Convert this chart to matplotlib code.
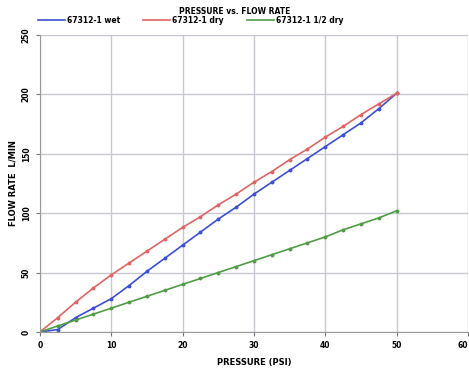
import matplotlib.pyplot as plt

pressure = [0, 2.5, 5, 7.5, 10, 12.5, 15, 17.5, 20, 22.5, 25, 27.5, 30,
            32.5, 35, 37.5, 40, 42.5, 45, 47.5, 50]

# flow rate L/min for each sample
wet = [0, 2, 12, 20, 28, 39, 51, 62, 73, 84, 95, 105, 116,
       126, 136, 146, 156, 166, 176, 188, 201]
dry = [0, 12, 25, 37, 48, 58, 68, 78, 88, 97, 107, 116, 126,
       135, 145, 154, 164, 173, 183, 192, 201]
dry_half = [0, 5, 10, 15, 20, 25, 30, 35, 40, 45, 50, 55, 60,
            65, 70, 75, 80, 86, 91, 96, 102]

labels = ["67312-1 wet", "67312-1 dry", "67312-1 1/2 dry"]

fig = plt.figure(figsize=(4.69, 3.68), dpi=100)
ax = fig.add_axes([0.085, 0.098, 0.913, 0.807])

ax.plot(pressure, wet, color="#3d4fd6", lw=1.2, marker="o", ms=1.8, label=labels[0])
ax.plot(pressure, dry, color="#e06464", lw=1.2, marker="o", ms=1.8, label=labels[1])
ax.plot(pressure, dry_half, color="#4f9c45", lw=1.2, marker="o", ms=1.8, label=labels[2])

ax.set_xlim(0, 60)
ax.set_ylim(0, 250)
ax.set_xticks(range(0, 61, 10))
ax.set_yticks(range(0, 251, 50))
ax.grid(True, color="#c8c8d4", lw=1)
ax.set_axisbelow(True)
for s in ["top", "right"]:
    ax.spines[s].set_visible(False)
ax.spines["left"].set_color("#999999")
ax.spines["bottom"].set_color("#999999")
ax.tick_params(labelsize=5.5, length=3, color="#777777")
for t in ax.get_xticklabels() + ax.get_yticklabels():
    t.set_fontweight("bold")
for t in ax.get_yticklabels():
    t.set_rotation(90)
    t.set_va("center")
ax.get_xticklabels()[-1].set_ha("right")

ax.set_xlabel("PRESSURE (PSI)", fontsize=6, fontweight="bold", labelpad=6)
ax.set_ylabel("FLOW RATE  L/MIN", fontsize=6, fontweight="bold", labelpad=3)
fig.text(0.5, 0.98, "PRESSURE vs. FLOW RATE", ha="center", va="top",
         fontsize=5.5, fontweight="bold")
leg = fig.legend(loc="upper left", bbox_to_anchor=(0.075, 0.965), ncol=3,
                 frameon=False, fontsize=5.5, handlelength=3.5, columnspacing=3,
                 handletextpad=0.3, markerscale=0, borderaxespad=0)
for t in leg.get_texts():
    t.set_fontweight("bold")

fig.savefig("out.png", dpi=100)
